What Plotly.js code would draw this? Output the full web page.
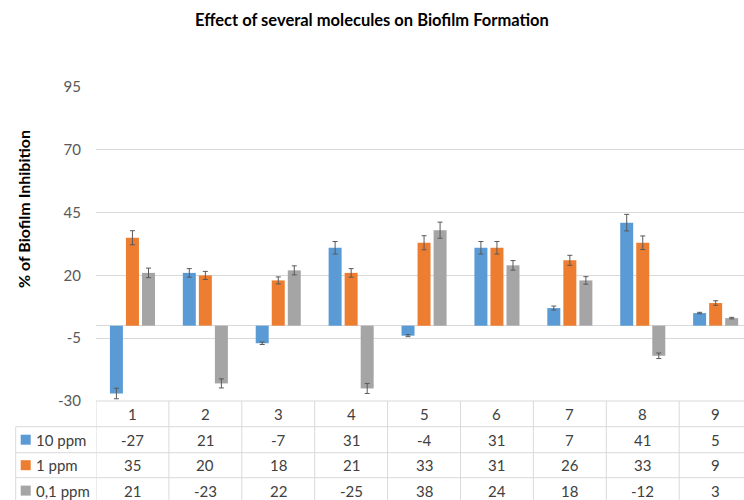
<!DOCTYPE html>
<html>
<head>
<meta charset="utf-8">
<script src="https://cdn.plot.ly/plotly-3.0.1.min.js"></script>
<style>html,body{margin:0;padding:0;background:#fff;}#chart{width:744px;height:500px;}</style>
</head>
<body>
<div id="chart"></div>
<script>
// ---- data ----
const categories = ['1', '2', '3', '4', '5', '6', '7', '8', '9'];
const seriesNames = ['10 ppm', '1 ppm', '0,1 ppm'];
const ppm10 = [-27, 21, -7, 31, -4, 31, 7, 41, 5];
const ppm1 = [35, 20, 18, 21, 33, 31, 26, 33, 9];
const ppm01 = [21, -23, 22, -25, 38, 24, 18, -12, 3];
const err10 = [2.1, 1.7, 0.5, 2.5, 0.4, 2.5, 0.8, 3.3, 0.3];
const err1 = [2.8, 1.6, 1.4, 1.7, 2.8, 2.5, 2.0, 2.7, 0.9];
const err01 = [1.9, 1.8, 1.8, 2.0, 3.2, 1.9, 1.5, 1.1, 0.3];
const yTicks = [-30, -5, 20, 45, 70, 95];
const chartTitle = 'Effect of several molecules on Biofilm Formation';
const yTitle = '% of Biofilm Inhibition';

// ---- styling ----
const colors = ['#5B9BD5', '#ED7D31', '#A5A5A5'];
const FONT = 'Lato, "Open Sans", sans-serif';
const W = 744, H = 500;
const mL = 96, mR = 0, mT = 87, mB = 99;
const plotW = W - mL - mR, plotH = H - mT - mB;
const catW = 72.9; // px per category
const xs = categories.map(c => Number(c));
const xMax = 0.5 + plotW / catW;

const values = [ppm10, ppm1, ppm01];
const errs = [err10, err1, err01];

const traces = values.map((v, i) => ({
  type: 'bar',
  name: seriesNames[i],
  x: xs,
  y: v,
  marker: {color: colors[i]},
  error_y: {type: 'data', array: errs[i], visible: true, color: '#595959', thickness: 1, width: 2.5},
  hoverinfo: 'x+y'
}));

// table geometry (pixel -> paper)
const py = p => (H - mB - p) / plotH;   // pixel y -> paper y
const px = p => (p - mL) / plotW;       // pixel x -> paper x
const rowLines = [401, 426.7, 452.7, 477.7, 503.5];
const labelLeft = 15.7;
const lineCol = '#d9d9d9';

const shapes = [];
shapes.push({type: 'line', xref: 'paper', yref: 'paper', x0: 0, x1: 1, y0: py(rowLines[0]), y1: py(rowLines[0]), line: {color: lineCol, width: 1}});
for (let r = 1; r < rowLines.length; r++) {
  shapes.push({type: 'line', xref: 'paper', yref: 'paper', x0: px(labelLeft), x1: 1, y0: py(rowLines[r]), y1: py(rowLines[r]), line: {color: lineCol, width: 1}});
}
shapes.push({type: 'line', xref: 'paper', yref: 'paper', x0: px(labelLeft), x1: px(labelLeft), y0: py(rowLines[1]), y1: py(rowLines[4]), line: {color: lineCol, width: 1}});
for (let k = 0; k <= categories.length; k++) {
  shapes.push({type: 'line', xref: 'x', yref: 'paper', x0: 0.5 + k, x1: 0.5 + k, y0: py(rowLines[0]), y1: py(rowLines[4]), line: {color: lineCol, width: 1}});
}
const rowCenters = [];
for (let r = 0; r < 4; r++) rowCenters.push((rowLines[r] + rowLines[r + 1]) / 2);
for (let i = 0; i < 3; i++) {
  const c = rowCenters[i + 1];
  shapes.push({type: 'rect', xref: 'paper', yref: 'paper', x0: px(20.7), x1: px(30.7), y0: py(c + 5), y1: py(c - 5), line: {width: 0}, fillcolor: colors[i]});
}

const annotations = [];
const tFont = {family: FONT, size: 15, color: '#404040'};
categories.forEach((c, j) => {
  annotations.push({xref: 'x', yref: 'paper', x: xs[j], y: py(rowCenters[0]), text: c, showarrow: false, font: tFont, xanchor: 'center', yanchor: 'middle'});
  values.forEach((v, i) => {
    annotations.push({xref: 'x', yref: 'paper', x: xs[j], y: py(rowCenters[i + 1]), text: String(v[j]), showarrow: false, font: tFont, xanchor: 'center', yanchor: 'middle'});
  });
});
seriesNames.forEach((n, i) => {
  annotations.push({xref: 'paper', yref: 'paper', x: px(34), y: py(rowCenters[i + 1]), text: n, showarrow: false, font: tFont, xanchor: 'left', yanchor: 'middle'});
});
// y-axis title
annotations.push({xref: 'paper', yref: 'paper', x: px(23), y: py(209), text: '<b>' + yTitle + '</b>', textangle: -90, showarrow: false, font: {family: FONT, size: 16, color: '#000000'}, xanchor: 'center', yanchor: 'middle'});

const layout = {
  width: W, height: H,
  margin: {l: mL, r: mR, t: mT, b: mB, pad: 0},
  paper_bgcolor: '#ffffff', plot_bgcolor: '#ffffff',
  showlegend: false,
  barmode: 'group', bargap: 0.34, bargroupgap: 0.19,
  title: {text: '<b>' + chartTitle + '</b>', font: {family: FONT, size: 16.5, color: '#000000'}, x: 0.5, xref: 'container', xanchor: 'center', y: 0.96, yref: 'container', yanchor: 'middle'},
  xaxis: {range: [0.5, xMax], showticklabels: false, showgrid: false, zeroline: false, showline: false, ticks: '', fixedrange: true},
  yaxis: {
    range: [-30, 95], tickvals: yTicks, ticktext: yTicks.map(String),
    showgrid: true, gridcolor: lineCol, gridwidth: 1,
    zeroline: true, zerolinecolor: lineCol, zerolinewidth: 1,
    showline: false, ticks: '', ticklabelstandoff: 14,
    tickfont: {family: FONT, size: 15, color: '#595959'},
    automargin: false
  },
  shapes: shapes,
  annotations: annotations
};

Plotly.newPlot('chart', traces, layout, {displayModeBar: false, staticPlot: true});
</script>
</body>
</html>
